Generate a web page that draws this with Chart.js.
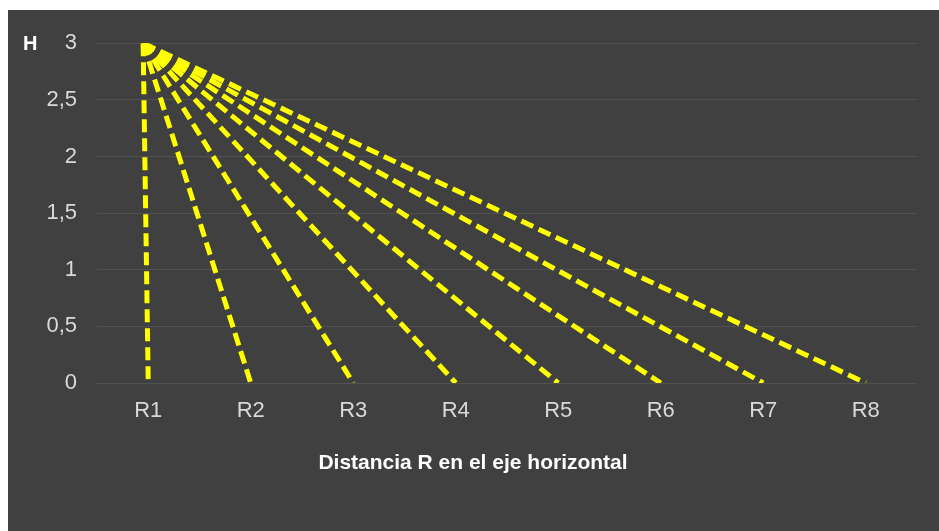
<!DOCTYPE html>
<html>
<head>
<meta charset="utf-8">
<script src="https://cdn.jsdelivr.net/npm/chart.js@4.4.1/dist/chart.umd.min.js"></script>
<style>
    html, body { margin: 0; padding: 0; background: #ffffff; }
    #panel {
        position: absolute; left: 8px; top: 10px;
        width: 931px; height: 521px;
        background: #404040;
    }
</style>
</head>
<body>
<div id="panel"><canvas id="chart" width="931" height="521"></canvas></div>
<script>
// Distance labels on the horizontal axis (R1 sits at x = 1, R2 at x = 2, ...)
const categories = ['R1', 'R2', 'R3', 'R4', 'R5', 'R6', 'R7', 'R8'];
// Every line starts at height H just beside R1 ...
const startX = 0.95;
const startHeight = 3;
// ... and ends on the ground at its own distance
const endX = [1, 2, 3, 4, 5, 6, 7, 8];
const endHeights = [0, 0, 0, 0, 0, 0, 0, 0];
const yTicks = [0, 0.5, 1, 1.5, 2, 2.5, 3];

const fontFamily = '"Liberation Sans", Arial, sans-serif';

const datasets = endX.map(function(x, i) {
    return {
        label: categories[i],
        data: [{x: startX, y: startHeight}, {x: x, y: endHeights[i]}],
        borderColor: '#ffff00',
        backgroundColor: '#ffff00',
        borderWidth: 5,
        borderDash: [13, 6],
        borderCapStyle: 'butt',
        pointRadius: 0,
        fill: false,
        tension: 0
    };
});

// Axis captions: "H" sits beside the top tick, the distance title below the labels
const captions = {
    id: 'captions',
    afterDraw: function(chart) {
        const ctx = chart.ctx;
        const area = chart.chartArea;
        const y = chart.scales.y;
        ctx.save();
        ctx.fillStyle = '#ffffff';
        ctx.font = 'bold 20px ' + fontFamily;
        ctx.textBaseline = 'middle';
        ctx.textAlign = 'left';
        ctx.fillText('H', 15, y.getPixelForValue(3) + 1);
        ctx.font = 'bold 21px ' + fontFamily;
        ctx.textAlign = 'center';
        ctx.fillText('Distancia R en el eje horizontal', (area.left + area.right) / 2 - 34, 453);
        ctx.restore();
    }
};

new Chart(document.getElementById('chart'), {
    type: 'scatter',
    data: { datasets: datasets },
    options: {
        responsive: false,
        animation: false,
        showLine: true,
        layout: { padding: { top: 33, right: 22, left: 0, bottom: 0 } },
        plugins: {
            legend: { display: false },
            tooltip: { enabled: false }
        },
        scales: {
            x: {
                type: 'linear',
                min: 0.5,
                max: 8.5,
                afterBuildTicks: function(scale) {
                    scale.ticks = endX.map(function(v) { return {value: v}; });
                },
                grid: { display: false, drawTicks: false },
                border: { display: false },
                ticks: {
                    color: '#d9d9d9',
                    font: { family: fontFamily, size: 22 },
                    padding: 15,
                    callback: function(v) { return categories[Math.round(v) - 1]; }
                },
                afterFit: function(scale) { scale.height = 148; }
            },
            y: {
                min: 0,
                max: 3,
                afterBuildTicks: function(scale) {
                    scale.ticks = yTicks.map(function(v) { return {value: v}; });
                },
                grid: { color: '#515151', lineWidth: 1, drawTicks: false },
                border: { display: false },
                ticks: {
                    color: '#d9d9d9',
                    font: { family: fontFamily, size: 22 },
                    padding: 20,
                    callback: function(v) { return String(v).replace('.', ','); }
                },
                afterFit: function(scale) { scale.width = 89; }
            }
        }
    },
    plugins: [captions]
});
</script>
</body>
</html>
